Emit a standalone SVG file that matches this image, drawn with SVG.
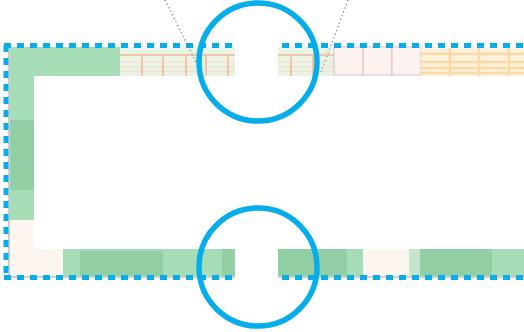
<svg xmlns="http://www.w3.org/2000/svg" width="524" height="332" viewBox="0 0 524 332">
<style>
.dash{fill:none;stroke:#05adeb;stroke-width:5;stroke-dasharray:7 6}
.ring{fill:none;stroke:#05adeb;stroke-width:5.5}
.dot{fill:none;stroke:#777;stroke-width:1.2;stroke-dasharray:1.2 2.8}
.g1{fill:#a6dcb6}
.g2{fill:#92cfa5}
.pk{fill:#fdf5f0}
.grid{fill:#e9f4e6}
.ol{stroke:#f2c6a4;stroke-width:2}
.ol2{stroke:#f6d9c2;stroke-width:1}
.yl{stroke:#f9d9a4;stroke-width:2.5}
.box{fill:#fcf3f0;stroke:#d8bfbf;stroke-width:1}
</style>
<rect width="524" height="332" fill="#fff"/>
<g id="left-strip">
<rect x="8" y="47" width="3" height="230" fill="#cfcfcf"/>
<rect class="g1" x="10" y="47" width="24" height="173"/>
<rect class="g2" x="10" y="120" width="24" height="70"/>
<rect class="pk" x="10" y="220" width="24" height="57"/>
</g>
<g id="top-strip-left">
<rect class="g1" x="10" y="47" width="110" height="29"/>
<rect class="grid" x="120" y="47" width="115" height="29"/>
<line class="ol2" x1="120" y1="62" x2="235" y2="62"/>
<line class="ol2" x1="120" y1="67" x2="235" y2="67"/>
<line class="ol2" x1="120" y1="71" x2="235" y2="71"/>
<line class="ol" x1="120" y1="55" x2="235" y2="55"/>
<line class="ol" x1="142" y1="55" x2="142" y2="76"/>
<line class="ol" x1="163" y1="55" x2="163" y2="76"/>
<line class="ol" x1="186" y1="55" x2="186" y2="76"/>
<line class="ol" x1="206" y1="55" x2="206" y2="76"/>
<line class="ol" x1="228" y1="55" x2="228" y2="76"/>
</g>
<g id="top-strip-right">
<rect class="grid" x="278" y="47" width="56" height="29"/>
<line class="ol2" x1="278" y1="62" x2="334" y2="62"/>
<line class="ol2" x1="278" y1="67" x2="334" y2="67"/>
<line class="ol2" x1="278" y1="71" x2="334" y2="71"/>
<line class="ol" x1="278" y1="55" x2="334" y2="55"/>
<line class="ol" x1="291" y1="55" x2="291" y2="76"/>
<line class="ol" x1="313" y1="55" x2="313" y2="76"/>
<rect class="box" x="334" y="47" width="29" height="28"/>
<rect class="box" x="363" y="47" width="29" height="28"/>
<rect class="box" x="392" y="47" width="29" height="28"/>
<rect x="421" y="47" width="103" height="29" fill="#fdf1de"/>
<line class="yl" x1="421" y1="54" x2="524" y2="54"/>
<line class="yl" x1="421" y1="62" x2="524" y2="62"/>
<line class="yl" x1="421" y1="68" x2="524" y2="68"/>
<line class="yl" x1="421" y1="73" x2="524" y2="73"/>
<line class="yl" x1="450" y1="48" x2="450" y2="76"/>
<line class="yl" x1="479" y1="48" x2="479" y2="76"/>
<line class="yl" x1="509" y1="48" x2="509" y2="76"/>
</g>
<g id="bottom-strip-left">
<rect x="10" y="274" width="225" height="4" fill="#cfcfcf"/>
<rect class="pk" x="10" y="249" width="53" height="27"/>
<rect class="g1" x="63" y="249" width="172" height="27"/>
<rect class="g2" x="80" y="251" width="83" height="25"/>
<rect class="g2" x="222" y="249" width="13" height="27"/>
</g>
<g id="bottom-strip-right">
<rect x="278" y="274" width="246" height="4" fill="#cfcfcf"/>
<rect class="g2" x="278" y="249" width="70" height="27"/>
<rect class="g1" x="347" y="249" width="16" height="27"/>
<rect class="pk" x="363" y="249" width="46" height="27"/>
<rect fill="#c5e6cc" x="409" y="249" width="11" height="27"/>
<rect class="g2" x="420" y="249" width="72" height="27"/>
<rect class="g1" x="492" y="249" width="32" height="27"/>
</g>
<g id="borders">
<path class="dash" d="M4 45.5H235"/>
<path class="dash" d="M282 45.5H524"/>
<path class="dash" d="M6 45V277"/>
<path class="dash" d="M4 277.5H235"/>
<path class="dash" d="M282 277.5H524"/>
</g>
<g id="connectors">
<line class="dot" x1="165" y1="0" x2="196" y2="62"/>
<line class="dot" x1="348" y1="0" x2="321" y2="72"/>
</g>
<g id="circle-top"><circle class="ring" cx="258" cy="62" r="59"/></g>
<g id="circle-bottom"><circle class="ring" cx="258" cy="267" r="59"/></g>
</svg>
